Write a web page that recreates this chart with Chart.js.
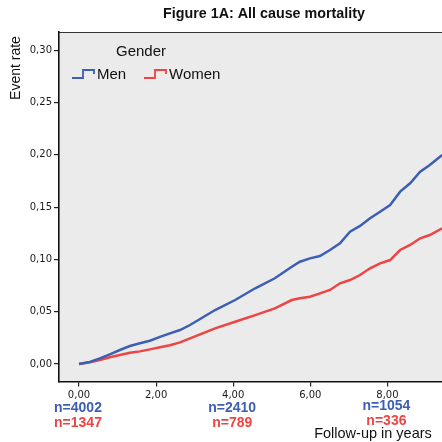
<!DOCTYPE html>
<html>
<head>
<meta charset="utf-8">
<script src="https://cdn.jsdelivr.net/npm/chart.js@4/dist/chart.umd.min.js"></script>
<style>
  html, body { margin: 0; padding: 0; background: #ffffff; overflow: hidden; }
  canvas { display: block; }
</style>
</head>
<body>
<canvas id="c" width="442" height="442"></canvas>
<script>
// Follow-up time (years) and cumulative event rate per group
const followUpYears = [0, 0.28, 0.54, 0.80, 1.06, 1.32, 1.58, 1.84, 2.10, 2.36, 2.62, 2.88, 3.14, 3.53, 4.05, 4.57, 5.08, 5.52, 5.73, 5.99, 6.25, 6.51, 6.77, 7.03, 7.29, 7.55, 7.81, 8.07, 8.33, 8.59, 8.85, 9.10, 9.42];
const menRate = [0, 0.002, 0.0054, 0.0093, 0.0134, 0.0172, 0.0198, 0.0223, 0.026, 0.0293, 0.0325, 0.0373, 0.043, 0.0516, 0.0612, 0.0724, 0.082, 0.093, 0.0978, 0.101, 0.1033, 0.109, 0.1154, 0.1265, 0.132, 0.1393, 0.1456, 0.152, 0.1648, 0.1728, 0.1839, 0.1903, 0.1998];
const womenRate = [0, 0.0016, 0.0038, 0.0064, 0.0086, 0.0108, 0.0121, 0.014, 0.016, 0.018, 0.0207, 0.0246, 0.0284, 0.0341, 0.0404, 0.0468, 0.0532, 0.0612, 0.0628, 0.0643, 0.0676, 0.0708, 0.0772, 0.0803, 0.0851, 0.0915, 0.0963, 0.0994, 0.109, 0.1138, 0.1202, 0.1233, 0.1297];

// Axis ticks
const xTickValues = [0, 2, 4, 6, 8];
const yTickValues = [0, 0.05, 0.10, 0.15, 0.20, 0.25, 0.30];

// Numbers at risk shown under selected x ticks
const atRiskYears = [0, 4, 8];
const menAtRisk = ["n=4002", "n=2410", "n=1054"];
const womenAtRisk = ["n=1347", "n=789", "n=336"];

const groupNames = ["Men", "Women"];
const BLUE = "#3d5fb3";
const RED = "#ef4444";
const SANS = "'Liberation Sans', Arial, sans-serif";

const toPoints = (xs, ys) => xs.map((x, i) => ({ x: x, y: ys[i] }));
const fmt = v => Number(v).toFixed(2).replace(".", ",");

const decorations = {
  id: "decorations",
  beforeDraw(chart) {
    const { ctx, chartArea: a } = chart;
    ctx.save();
    ctx.fillStyle = "#ebebeb";
    ctx.fillRect(a.left, a.top, a.right - a.left, a.bottom - a.top);
    ctx.strokeStyle = "#333333";
    ctx.lineWidth = 1.2;
    ctx.beginPath();
    ctx.moveTo(a.left, a.top + 0.5);
    ctx.lineTo(a.right, a.top + 0.5);
    ctx.stroke();
    ctx.restore();
  },
  afterDraw(chart) {
    const { ctx } = chart;
    const xs = chart.scales.x;
    ctx.save();
    ctx.textBaseline = "middle";

    // Title
    ctx.fillStyle = "#111111";
    ctx.font = "bold 14.3px " + SANS;
    ctx.textAlign = "center";
    ctx.fillText("Figure 1A: All cause mortality", 264, 14);

    // Y-axis title
    ctx.save();
    ctx.translate(16, 68);
    ctx.rotate(-Math.PI / 2);
    ctx.font = "14px " + SANS;
    ctx.fillText("Event rate", 0, 0);
    ctx.restore();

    // Legend
    ctx.textAlign = "left";
    ctx.font = "15px " + SANS;
    ctx.fillStyle = "#111111";
    ctx.fillText("Gender", 116, 52);
    const items = [
      { x: 72, color: BLUE, label: groupNames[0] },
      { x: 144, color: RED, label: groupNames[1] }
    ];
    items.forEach(it => {
      ctx.strokeStyle = it.color;
      ctx.lineWidth = 1.8;
      ctx.beginPath();
      ctx.moveTo(it.x, 78);
      ctx.lineTo(it.x + 11, 78);
      ctx.lineTo(it.x + 11, 70);
      ctx.lineTo(it.x + 22, 70);
      ctx.lineTo(it.x + 22, 74);
      ctx.stroke();
      ctx.fillStyle = "#111111";
      ctx.fillText(it.label, it.x + 25, 75);
    });

    // Numbers at risk
    ctx.textAlign = "center";
    ctx.font = "bold 14px " + SANS;
    atRiskYears.forEach((yr, i) => {
      const px = xs.getPixelForValue(yr) - 1;
      const dy = i === 2 ? -2 : 0;
      ctx.fillStyle = BLUE;
      ctx.fillText(menAtRisk[i], px, 408 + dy);
      ctx.fillStyle = RED;
      ctx.fillText(womenAtRisk[i], px, 423 + dy);
    });

    // X-axis title
    ctx.fillStyle = "#111111";
    ctx.font = "14.5px " + SANS;
    ctx.textAlign = "center";
    ctx.fillText("Follow-up in years", 373, 434);
    ctx.restore();
  }
};

new Chart(document.getElementById("c"), {
  type: "line",
  data: {
    datasets: [
      {
        label: groupNames[0],
        data: toPoints(followUpYears, menRate),
        borderColor: BLUE,
        borderWidth: 2.5,
        pointRadius: 0,
        tension: 0,
        fill: false
      },
      {
        label: groupNames[1],
        data: toPoints(followUpYears, womenRate),
        borderColor: RED,
        borderWidth: 2.5,
        pointRadius: 0,
        tension: 0,
        fill: false
      }
    ]
  },
  options: {
    responsive: false,
    animation: false,
    layout: { padding: { top: 32, left: 0, right: 0, bottom: 0 } },
    plugins: {
      legend: { display: false },
      title: { display: false },
      tooltip: { enabled: false }
    },
    scales: {
      x: {
        type: "linear",
        min: -0.519,
        max: 9.416,
        afterBuildTicks: s => { s.ticks = xTickValues.map(v => ({ value: v })); },
        afterFit: s => { s.height = 60.5; s.paddingLeft = 0; s.paddingRight = 0; },
        grid: { drawOnChartArea: false, drawTicks: true, tickLength: 5, color: "#222222", lineWidth: 1.2 },
        border: { display: true, color: "#111111", width: 1.6 },
        ticks: {
          autoSkip: false,
          maxRotation: 0,
          padding: 3,
          color: "#1a1a1a",
          font: { family: "'DejaVu Sans', sans-serif", size: 10 },
          callback: v => fmt(v)
        }
      },
      y: {
        type: "linear",
        min: -0.0167,
        max: 0.3174,
        afterBuildTicks: s => { s.ticks = yTickValues.map(v => ({ value: v })); },
        afterFit: s => { s.width = 59; },
        grid: { drawOnChartArea: false, drawTicks: true, tickLength: 5, color: "#222222", lineWidth: 1.2 },
        border: { display: true, color: "#111111", width: 1.6 },
        ticks: {
          autoSkip: false,
          padding: 2,
          color: "#1a1a1a",
          font: { family: "'DejaVu Sans', sans-serif", size: 10 },
          callback: v => fmt(v)
        }
      }
    }
  },
  plugins: [decorations]
});
</script>
</body>
</html>
